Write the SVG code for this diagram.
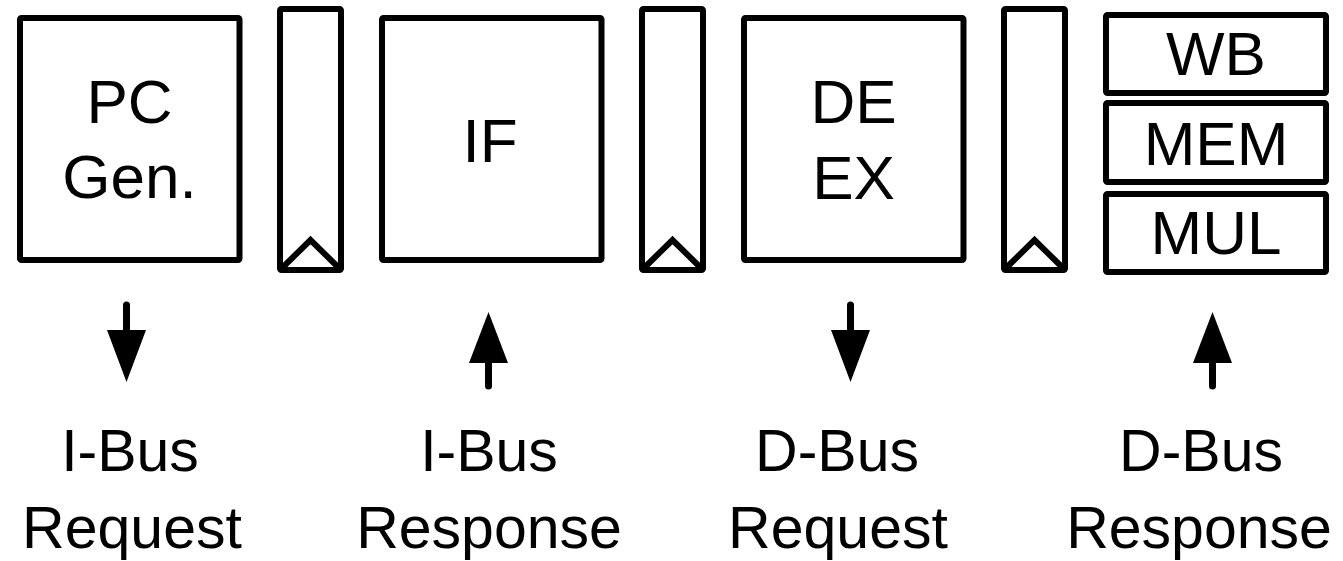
<svg xmlns="http://www.w3.org/2000/svg" width="1343" height="561" viewBox="0 0 1343 561">
<style>
.box{fill:#fff;stroke:#000;stroke-width:6;stroke-linejoin:round}
.tri{fill:none;stroke:#000;stroke-width:6;stroke-linejoin:miter}
.t{font-family:"Liberation Sans",Arial,sans-serif;font-size:62px;fill:#000;text-anchor:middle}
.lbl{font-family:"Liberation Sans",Arial,sans-serif;font-size:59px;fill:#000;text-anchor:middle}
.shaft{stroke:#000;stroke-width:7;stroke-linecap:round}
</style>
<rect width="1343" height="561" fill="#fff"/>
<g id="pcgen">
<rect class="box" x="20" y="18" width="219.5" height="242" rx="1.5"/>
<text class="t" x="129.5" y="123">PC</text>
<text class="t" x="129.5" y="198">Gen.</text>
</g>
<g id="reg1">
<rect class="box" x="280" y="9" width="61" height="261" rx="1.5"/>
<polyline class="tri" points="281,269 310.5,240 340,269"/>
</g>
<g id="if">
<rect class="box" x="382" y="18" width="219.5" height="242" rx="1.5"/>
<text class="t" x="490" y="162">IF</text>
</g>
<g id="reg2">
<rect class="box" x="642" y="9" width="61" height="261" rx="1.5"/>
<polyline class="tri" points="643,269 672.5,240 702,269"/>
</g>
<g id="deex">
<rect class="box" x="744" y="18" width="219.5" height="242" rx="1.5"/>
<text class="t" x="853.5" y="123">DE</text>
<text class="t" x="853.5" y="199">EX</text>
</g>
<g id="reg3">
<rect class="box" x="1004" y="9" width="61" height="261" rx="1.5"/>
<polyline class="tri" points="1005,269 1034.5,240 1064,269"/>
</g>
<g id="wb">
<rect class="box" x="1106" y="15" width="220" height="78" rx="1.5"/>
<text class="t" x="1216" y="75">WB</text>
</g>
<g id="mem">
<rect class="box" x="1106" y="103" width="220" height="79" rx="1.5"/>
<text class="t" x="1216" y="165">MEM</text>
</g>
<g id="mul">
<rect class="box" x="1106" y="194" width="220" height="78" rx="1.5"/>
<text class="t" x="1216" y="254">MUL</text>
</g>
<g id="connectors">
<line class="shaft" x1="126.5" y1="305" x2="126.5" y2="335"/>
<polygon points="107,330 146,330 126.5,382"/>
<line class="shaft" x1="488.5" y1="386" x2="488.5" y2="355"/>
<polygon points="469,363 508,363 488.5,312"/>
<line class="shaft" x1="850.5" y1="305" x2="850.5" y2="335"/>
<polygon points="831,330 870,330 850.5,382"/>
<line class="shaft" x1="1212.5" y1="386" x2="1212.5" y2="355"/>
<polygon points="1193,363 1232,363 1212.5,312"/>
</g>
<g id="labels">
<text class="lbl" x="130" y="471">I-Bus</text>
<text class="lbl" x="132" y="548">Request</text>
<text class="lbl" x="489" y="471">I-Bus</text>
<text class="lbl" x="489" y="548">Response</text>
<text class="lbl" x="837" y="471">D-Bus</text>
<text class="lbl" x="838" y="548">Request</text>
<text class="lbl" x="1201" y="471">D-Bus</text>
<text class="lbl" x="1199" y="548">Response</text>
</g>
</svg>
